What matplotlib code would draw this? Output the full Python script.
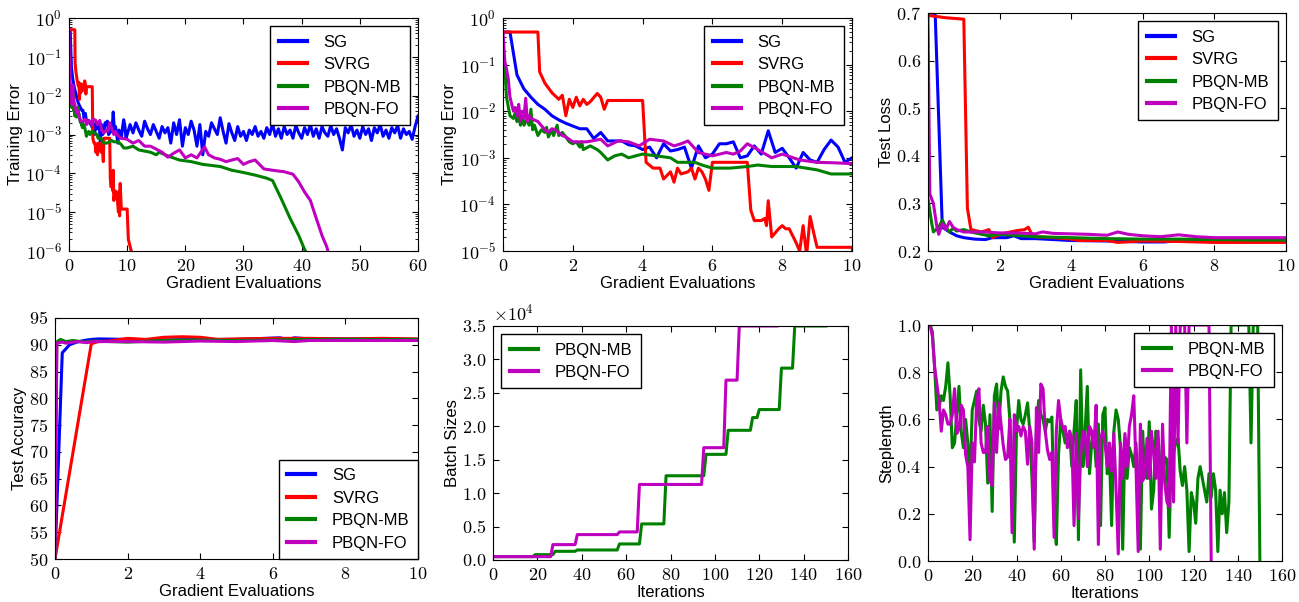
import numpy as np
import matplotlib
matplotlib.use('Agg')
import matplotlib.pyplot as plt
from matplotlib.ticker import FuncFormatter, NullFormatter

# ---------------- data ----------------
labels = ['SG', 'SVRG', 'PBQN-MB', 'PBQN-FO']
colors = ['#0000ff', '#ff0000', '#008000', '#bf00bf']

# training error vs gradient evaluations (shared by panels 1 and 2)
sg_x = np.concatenate([np.arange(0, 10.01, 0.2), np.arange(10.5, 60.01, 0.5)])
sg_err = [0.5, 0.5, 0.06, 0.03, 0.02, 0.014, 0.011, 0.008, 0.0065, 0.0055,
          0.0048, 0.0042, 0.0042, 0.0026, 0.0035, 0.0023, 0.0023, 0.0023, 0.0019, 0.0018,
          0.0015, 0.0017, 0.0010, 0.0020, 0.0014, 0.0015, 0.0017, 0.0006, 0.0018, 0.0010,
          0.0012, 0.0020, 0.0020, 0.0022, 0.0010, 0.0011, 0.0018, 0.0012, 0.0038, 0.0013,
          0.0016, 0.0010, 0.0006, 0.0013, 0.0009, 0.0008, 0.0015, 0.0024, 0.0017, 0.0008,
          0.0010,
          1.8e-3, 1.1e-3, 2.0e-3, 1.3e-3, 0.9e-3, 2.2e-3, 1.4e-3, 1.0e-3, 1.8e-3, 1.2e-3,
          0.8e-3, 1.6e-3, 1.1e-3, 1.5e-3, 0.6e-3, 2.0e-3, 1.0e-3, 2.4e-3, 0.5e-3, 1.5e-3,
          1.0e-3, 2.2e-3, 1.3e-3, 0.5e-3, 1.8e-3, 0.3e-3, 1.2e-3, 0.9e-3, 2.0e-3, 1.4e-3,
          1.0e-3, 2.7e-3, 1.2e-3, 0.6e-3, 1.9e-3, 1.1e-3, 0.7e-3, 1.6e-3, 0.9e-3, 1.2e-3,
          0.7e-3, 1.3e-3, 1.0e-3, 1.6e-3, 0.9e-3, 1.2e-3, 0.8e-3, 1.5e-3, 1.0e-3, 1.9e-3,
          0.9e-3, 1.4e-3, 0.8e-3, 1.6e-3, 1.0e-3, 1.3e-3, 0.8e-3, 1.7e-3, 1.1e-3, 0.8e-3,
          1.5e-3, 1.0e-3, 1.8e-3, 0.9e-3, 1.4e-3, 0.8e-3, 1.6e-3, 1.1e-3, 0.9e-3, 1.7e-3,
          1.0e-3, 1.4e-3, 0.8e-3, 0.4e-3, 1.5e-3, 1.1e-3, 1.8e-3, 0.9e-3, 1.3e-3, 0.8e-3,
          1.6e-3, 1.0e-3, 1.4e-3, 0.7e-3, 1.5e-3, 1.1e-3, 1.8e-3, 0.9e-3, 1.3e-3, 0.8e-3,
          1.5e-3, 1.1e-3, 1.7e-3, 0.8e-3, 1.4e-3, 1.0e-3, 1.2e-3, 0.75e-3, 1.6e-3, 3.0e-3]

svrg_x = [0, 1.0, 1.05, 1.2, 1.4, 1.6, 1.7, 1.8, 1.9, 2.0,
          2.1, 2.2, 2.3, 2.4, 2.5, 2.7, 2.8, 2.9, 3.0, 4.0,
          4.1, 4.3, 4.5, 4.6, 4.8, 4.9, 5.0, 5.1, 5.3, 5.4,
          5.5, 5.6, 5.7, 5.8, 5.9, 6.0, 7.0, 7.1, 7.2, 7.4,
          7.5, 7.55, 7.6, 7.7, 7.9, 8.0, 8.1, 8.2, 8.4, 8.5,
          8.6, 8.7, 8.8, 8.9, 9.0, 10.0, 10.2, 10.7, 11.2]
svrg_err = [0.5, 0.5, 0.07, 0.04, 0.025, 0.018, 0.022, 0.008, 0.018, 0.012,
            0.02, 0.013, 0.018, 0.014, 0.016, 0.024, 0.02, 0.011, 0.017, 0.017,
            8e-4, 6e-4, 6e-4, 3.5e-4, 5e-4, 3e-4, 6e-4, 4.5e-4, 5e-4, 6e-4,
            3.5e-4, 6e-4, 5e-4, 3.5e-4, 2e-4, 8e-4, 8e-4, 7.5e-5, 4.5e-5, 4.5e-5,
            5e-5, 3.5e-5, 1.2e-4, 2e-5, 3e-5, 3.5e-5, 3e-5, 3e-5, 1.5e-5, 1e-5,
            3.5e-5, 8e-6, 5.5e-5, 2.5e-5, 1.2e-5, 1.2e-5, 2e-6, 1e-6, 5e-7]

mb_x = [0, 0.05, 0.1, 0.2, 0.3, 0.35, 0.4, 0.45, 0.5, 0.55,
        0.6, 0.7, 0.75, 0.8, 0.85, 0.9, 1.0, 1.1, 1.2, 1.25,
        1.3, 1.4, 1.45, 1.55, 1.6, 1.7, 1.8, 1.9, 2.0, 2.1,
        2.2, 2.25, 2.3, 2.5, 2.7, 2.8, 3.0, 3.2, 3.4, 3.6,
        3.8, 4.0, 4.4, 4.8, 5.0, 5.5, 5.7, 6.0, 6.5, 7.0,
        7.3, 7.7, 8.4, 9.0, 9.4, 10, 11, 12, 14, 15,
        15.5, 17, 19, 21, 23, 26, 28, 30, 32, 34,
        35, 36.5, 38, 39.5, 40.5, 41]
mb_err = [0.1, 0.1, 0.02, 0.008, 0.007, 0.009, 0.006, 0.008, 0.005, 0.009,
          0.005, 0.007, 0.005, 0.011, 0.004, 0.005, 0.003, 0.004, 0.0035, 0.0045,
          0.0028, 0.004, 0.003, 0.005, 0.003, 0.0035, 0.0028, 0.0022, 0.002, 0.0022,
          0.0017, 0.0022, 0.0015, 0.0018, 0.0015, 0.0013, 0.0009, 0.0011, 0.0012, 0.001,
          0.0011, 0.0012, 0.0011, 0.001, 0.0008, 0.0008, 0.0007, 0.0006, 0.0006, 0.00065,
          0.0007, 0.00065, 0.00065, 0.00055, 0.00045, 0.00045, 5e-4, 4e-4, 3.5e-4, 3e-4,
          3.5e-4, 2.8e-4, 2.2e-4, 2e-4, 1.7e-4, 1.5e-4, 1.2e-4, 1.05e-4, 9e-5, 7.5e-5,
          6.5e-5, 2.2e-5, 7e-6, 2.5e-6, 1.1e-6, 8e-7]

fo_x = [0, 0.05, 0.1, 0.15, 0.2, 0.3, 0.35, 0.4, 0.45, 0.5,
        0.55, 0.6, 0.65, 0.7, 0.75, 0.8, 1.0, 1.2, 1.3, 1.4,
        1.5, 1.7, 1.8, 2.0, 2.4, 2.8, 3.0, 3.3, 3.6, 3.9,
        4.2, 4.6, 4.9, 5.1, 5.3, 5.6, 6.0, 6.4, 6.6, 6.8,
        7.0, 7.3, 7.7, 8.0, 8.5, 9.0, 9.5, 10, 11, 12,
        13, 14, 15, 16, 17, 18, 19, 20, 21, 22,
        23.3, 24, 25, 26, 27, 28, 29, 30, 31, 32,
        33.5, 35, 37, 38.5, 39.5, 40.5, 41.5, 42.5, 43.5, 44.3,
        44.7]
fo_err = [0.5, 0.12, 0.08, 0.05, 0.02, 0.01, 0.012, 0.008, 0.014, 0.006,
          0.01, 0.007, 0.019, 0.006, 0.008, 0.007, 0.006, 0.004, 0.0035, 0.0042,
          0.004, 0.003, 0.0028, 0.0022, 0.0022, 0.0025, 0.0018, 0.0023, 0.0022, 0.0018,
          0.0025, 0.0023, 0.0018, 0.002, 0.0023, 0.0013, 0.0011, 0.0013, 0.0012, 0.0014,
          0.002, 0.0015, 0.001, 0.0012, 0.0009, 0.0008, 0.00078, 0.00075, 6e-4, 7e-4,
          5e-4, 5e-4, 4.2e-4, 3.5e-4, 2.6e-4, 3.3e-4, 4e-4, 2.5e-4, 3e-4, 2.5e-4,
          4.8e-4, 3e-4, 2.5e-4, 2.3e-4, 2.0e-4, 2.2e-4, 2.4e-4, 1.7e-4, 2.0e-4, 2.2e-4,
          1.3e-4, 1.2e-4, 1.1e-4, 9.5e-5, 6e-5, 3.3e-5, 2e-5, 7e-6, 2.5e-6, 1.3e-6,
          8e-7]

# test loss
loss_sg_x = [0, 0.2, 0.4, 0.6, 0.8, 1.0, 1.3, 1.6, 1.8, 2.2, 2.4, 2.6, 3.0, 4.0, 5.0,
             6.0, 6.6, 7.0, 8.0, 9.0, 10]
loss_sg = [0.7, 0.7, 0.25, 0.24, 0.232, 0.228, 0.225, 0.224, 0.228, 0.228, 0.232, 0.226,
           0.226, 0.222, 0.221, 0.219, 0.219, 0.222, 0.22, 0.219, 0.222]
loss_svrg_x = [0, 0.5, 1.0, 1.1, 1.2, 1.5, 1.7, 1.8, 2.0, 2.3, 2.5, 2.7, 2.8, 2.9, 3.0,
               3.5, 4.0, 4.2, 5.0, 5.3, 6.0, 7.0, 8.0, 9.0, 10]
loss_svrg = [0.695, 0.69, 0.687, 0.29, 0.245, 0.24, 0.245, 0.228, 0.235, 0.24, 0.243,
             0.245, 0.25, 0.235, 0.23, 0.228, 0.225, 0.222, 0.222, 0.218, 0.221, 0.22,
             0.218, 0.218, 0.218]
loss_mb_x = [0, 0.1, 0.15, 0.3, 0.4, 0.5, 0.6, 0.7, 0.8, 1.0, 1.2, 1.5, 1.7, 2.0, 3.0,
             4.0, 5.0, 6.0, 7.0, 8.0, 9.0, 10]
loss_mb = [0.31, 0.26, 0.24, 0.25, 0.265, 0.25, 0.24, 0.248, 0.242, 0.245, 0.24, 0.235,
           0.232, 0.235, 0.23, 0.228, 0.226, 0.225, 0.225, 0.224, 0.223, 0.223]
loss_fo_x = [0, 0.05, 0.15, 0.25, 0.3, 0.4, 0.5, 0.6, 0.7, 0.8, 1.0, 1.5, 2.0, 2.5, 3.0,
             3.2, 3.5, 4.0, 4.5, 5.0, 5.3, 5.6, 6.0, 6.5, 7.0, 7.5, 8.0, 9.0, 10]
loss_fo = [0.69, 0.32, 0.3, 0.25, 0.235, 0.258, 0.245, 0.262, 0.25, 0.245, 0.24, 0.24,
           0.238, 0.238, 0.236, 0.24, 0.237, 0.236, 0.235, 0.233, 0.24, 0.235, 0.232,
           0.23, 0.234, 0.23, 0.228, 0.228, 0.228]

# test accuracy
acc_sg_x = [0, 0.2, 0.4, 0.6, 0.8, 1.0, 1.2, 2.0, 3.0, 4.0, 5.0, 6.2, 6.4, 6.6, 7.0, 8.0, 10]
acc_sg = [50, 88.5, 90, 90.5, 90.8, 91, 91.1, 91.0, 90.9, 91.0, 91.0, 91.3, 91.0, 91.3,
          91.1, 91.1, 91.0]
acc_svrg_x = [0, 1.0, 1.2, 1.5, 2.0, 2.5, 3.0, 3.5, 4.0, 4.5, 5.0, 6.0, 7.0, 8.0, 9.0, 10]
acc_svrg = [50, 90.2, 90.6, 90.7, 91.2, 91.0, 91.4, 91.5, 91.4, 91.0, 91.1, 91.2, 91.2,
            91.1, 91.2, 91.1]
acc_mb_x = [0, 0.05, 0.1, 0.15, 0.3, 0.5, 0.8, 1.0, 1.5, 2.0, 3.0, 4.0, 5.0, 6.0, 7.0, 8.0, 10]
acc_mb = [50, 90.5, 90.8, 91.0, 90.6, 90.8, 90.5, 90.7, 90.6, 90.5, 90.8, 90.9, 90.8,
          90.9, 91.0, 91.0, 91.0]
acc_fo_x = [0, 0.05, 0.2, 0.3, 0.6, 0.9, 1.0, 2.0, 3.0, 4.0, 5.0, 6.0, 6.6, 7.0, 8.0, 10]
acc_fo = [50, 90.3, 90.5, 90.3, 90.6, 90.4, 90.6, 90.6, 90.5, 90.7, 90.6, 90.8, 90.6,
          90.8, 90.8, 90.8]

# batch sizes (breakpoints of the staircase)
batch_mb_it = [0, 18, 19, 27, 28, 37, 38, 56, 57, 66, 67, 77, 78, 95, 96, 105, 106, 116,
               117, 119, 120, 129, 130, 135, 136, 150]
batch_mb = [500, 500, 800, 800, 1300, 1300, 1500, 1500, 2400, 2400, 5400, 5400, 12600,
            12600, 15800, 15800, 19400, 19400, 21300, 21300, 22500, 22500, 28700, 28700,
            35000, 35000]
batch_fo_it = [0, 26, 27, 37, 38, 56, 57, 65, 66, 94, 95, 104, 105, 110, 111, 128]
batch_fo = [500, 500, 2300, 2300, 3800, 3800, 4200, 4200, 11300, 11300, 16800, 16800,
            26900, 26900, 35000, 35000]

# steplength per iteration
step_mb = [1.0, 1.0, 0.97, 0.82, 0.64, 0.65, 0.70, 0.68, 0.74, 0.84,
           0.70, 0.48, 0.50, 0.62, 0.74, 0.55, 0.48, 0.60, 0.50, 0.35,
           0.64, 0.68, 0.72, 0.60, 0.55, 0.66, 0.58, 0.33, 0.62, 0.21,
           0.70, 0.75, 0.56, 0.72, 0.78, 0.74, 0.72, 0.60, 0.40, 0.08,
           0.55, 0.68, 0.60, 0.58, 0.62, 0.67, 0.55, 0.35, 0.08, 0.55,
           0.68, 0.62, 0.60, 0.55, 0.60, 0.59, 0.61, 0.20, 0.07, 0.45,
           0.60, 0.55, 0.50, 0.52, 0.55, 0.40, 0.55, 0.68, 0.09, 0.81,
           0.40, 0.55, 0.74, 0.37, 0.50, 0.55, 0.40, 0.58, 0.15, 0.62,
           0.65, 0.37, 0.45, 0.15, 0.55, 0.64, 0.60, 0.48, 0.05, 0.52,
           0.35, 0.48, 0.45, 0.40, 0.50, 0.30, 0.05, 0.55, 0.36, 0.35,
           0.59, 0.22, 0.30, 0.55, 0.52, 0.40, 0.36, 0.44, 0.43, 0.10,
           0.45, 0.46, 0.50, 0.52, 0.38, 0.32, 0.40, 0.30, 0.04, 0.29,
           0.25, 0.16, 0.35, 0.40, 0.35, 0.30, 0.25, 0.37, 0.27, 0.37,
           0.30, 0.04, 0.30, 0.20, 0.29, 0.12, 0.25, 1.0, 1.0, 1.0,
           1.0, 1.0, 1.0, 1.0, 1.0, 1.0, 0.50, 1.0, 1.0, 1.0,
           0.0]
step_fo = [1.0, 1.0, 0.95, 0.82, 0.75, 0.68, 0.55, 0.64, 0.62, 0.58,
           0.58, 0.62, 0.73, 0.54, 0.56, 0.66, 0.64, 0.45, 0.40, 0.09,
           0.50, 0.42, 0.68, 0.73, 0.50, 0.46, 0.46, 0.57, 0.34, 0.32,
           0.67, 0.46, 0.67, 0.58, 0.49, 0.43, 0.44, 0.60, 0.12, 0.62,
           0.55, 0.57, 0.53, 0.57, 0.55, 0.41, 0.57, 0.50, 0.05, 0.65,
           0.46, 0.75, 0.73, 0.55, 0.47, 0.43, 0.46, 0.10, 0.55, 0.68,
           0.60, 0.56, 0.57, 0.48, 0.55, 0.52, 0.15, 0.54, 0.18, 0.45,
           0.55, 0.54, 0.40, 0.57, 0.55, 0.48, 0.66, 0.07, 0.52, 0.55,
           0.50, 0.40, 0.50, 0.38, 0.54, 0.30, 0.03, 0.50, 0.35, 0.54,
           0.40, 0.57, 0.62, 0.70, 0.40, 0.04, 0.58, 0.34, 0.36, 0.52,
           0.35, 0.55, 0.45, 0.35, 0.55, 0.05, 0.58, 0.33, 0.25, 0.23,
           1.0, 0.25, 1.0, 0.50, 1.0, 1.0, 1.0, 0.50, 1.0, 1.0,
           1.0, 1.0, 1.0, 1.0, 1.0, 1.0, 1.0, 1.0, 0.0]

# ---------------- style ----------------
plt.rcParams['font.family'] = 'Liberation Sans'
plt.rcParams['font.size'] = 12
plt.rcParams['mathtext.fontset'] = 'cm'
plt.rcParams['mathtext.default'] = 'rm'
plt.rcParams['xtick.direction'] = 'in'
plt.rcParams['ytick.direction'] = 'in'
plt.rcParams['xtick.top'] = True
plt.rcParams['ytick.right'] = True
plt.rcParams['xtick.major.size'] = 4
plt.rcParams['ytick.major.size'] = 4
plt.rcParams['xtick.minor.size'] = 2
plt.rcParams['ytick.minor.size'] = 2
plt.rcParams['xtick.major.pad'] = 5
plt.rcParams['ytick.major.pad'] = 5
plt.rcParams['xtick.labelsize'] = 13
plt.rcParams['ytick.labelsize'] = 13
plt.rcParams['axes.labelpad'] = 1.5
LW = 2.2

W, H = 1299, 602
fig = plt.figure(figsize=(W / 100, H / 100), dpi=100)

int_fmt = FuncFormatter(lambda v, p: '$%d$' % round(v))
dec_fmt = FuncFormatter(lambda v, p: '$%.1f$' % v)
log_fmt = FuncFormatter(lambda v, p: '$10^{%d}$' % round(np.log10(v)))
e4_fmt = FuncFormatter(lambda v, p: '$%.1f$' % (v / 1e4))


def box(l, r, t, b):
    return [l / W, (H - b) / H, (r - l) / W, (b - t) / H]


def legend(ax, loc, pad=0.5):
    leg = ax.legend(loc=loc, fancybox=False, framealpha=1, edgecolor='black',
                    fontsize=12, handlelength=1.7, handletextpad=1.0,
                    labelspacing=0.45, borderpad=0.5, borderaxespad=pad)
    leg.get_frame().set_linewidth(1.0)
    for h in leg.get_lines():
        h.set_linewidth(3)


def log_axis(ax):
    ax.set_yscale('log')
    ax.yaxis.set_major_formatter(log_fmt)
    ax.yaxis.set_minor_formatter(NullFormatter())


# panel 1
ax1 = fig.add_axes(box(69, 418, 18, 251))
ax1.plot(sg_x, sg_err, color=colors[0], lw=LW, label=labels[0])
ax1.plot(svrg_x, svrg_err, color=colors[1], lw=LW, label=labels[1])
ax1.plot(mb_x, mb_err, color=colors[2], lw=LW, label=labels[2])
ax1.plot(fo_x, fo_err, color=colors[3], lw=LW, label=labels[3])
log_axis(ax1)
ax1.set_xlim(0, 60)
ax1.set_ylim(1e-6, 1)
ax1.xaxis.set_major_formatter(int_fmt)
ax1.set_xlabel('Gradient Evaluations', labelpad=1)
ax1.set_ylabel('Training Error')
legend(ax1, 'upper right')

# panel 2
ax2 = fig.add_axes(box(503, 852, 18, 251))
ax2.plot(sg_x, sg_err, color=colors[0], lw=LW, label=labels[0])
ax2.plot(svrg_x, svrg_err, color=colors[1], lw=LW, label=labels[1])
ax2.plot(mb_x, mb_err, color=colors[2], lw=LW, label=labels[2])
ax2.plot(fo_x, fo_err, color=colors[3], lw=LW, label=labels[3])
log_axis(ax2)
ax2.set_xlim(0, 10)
ax2.set_ylim(1e-5, 1)
ax2.xaxis.set_major_formatter(int_fmt)
ax2.set_xlabel('Gradient Evaluations', labelpad=1)
ax2.set_ylabel('Training Error')
legend(ax2, 'upper right')

# panel 3
ax3 = fig.add_axes(box(928, 1286, 13, 251))
ax3.plot(loss_sg_x, loss_sg, color=colors[0], lw=LW, label=labels[0])
ax3.plot(loss_svrg_x, loss_svrg, color=colors[1], lw=LW, label=labels[1])
ax3.plot(loss_mb_x, loss_mb, color=colors[2], lw=LW, label=labels[2])
ax3.plot(loss_fo_x, loss_fo, color=colors[3], lw=LW, label=labels[3])
ax3.set_xlim(0, 10)
ax3.set_ylim(0.2, 0.7)
ax3.xaxis.set_major_formatter(int_fmt)
ax3.yaxis.set_major_formatter(dec_fmt)
ax3.set_xlabel('Gradient Evaluations', labelpad=1)
ax3.set_ylabel('Test Loss')
legend(ax3, 'upper right')

# panel 4
ax4 = fig.add_axes(box(55, 418, 318, 559))
ax4.plot(acc_sg_x, acc_sg, color=colors[0], lw=LW, label=labels[0])
ax4.plot(acc_svrg_x, acc_svrg, color=colors[1], lw=LW, label=labels[1])
ax4.plot(acc_mb_x, acc_mb, color=colors[2], lw=LW, label=labels[2])
ax4.plot(acc_fo_x, acc_fo, color=colors[3], lw=LW, label=labels[3])
ax4.set_xlim(0, 10)
ax4.set_ylim(50, 95)
ax4.set_yticks(np.arange(50, 96, 5))
ax4.xaxis.set_major_formatter(int_fmt)
ax4.yaxis.set_major_formatter(int_fmt)
ax4.set_xlabel('Gradient Evaluations', labelpad=1)
ax4.set_ylabel('Test Accuracy')
legend(ax4, 'lower right', pad=0.0)

# panel 5
ax5 = fig.add_axes(box(493, 848, 326, 560))
ax5.plot(batch_mb_it, batch_mb, color=colors[2], lw=LW, label=labels[2])
ax5.plot(batch_fo_it, batch_fo, color=colors[3], lw=LW, label=labels[3])
ax5.set_xlim(0, 160)
ax5.set_ylim(0, 35000)
ax5.set_xticks(np.arange(0, 161, 20))
ax5.set_yticks(np.arange(0, 35001, 5000))
ax5.xaxis.set_major_formatter(int_fmt)
ax5.yaxis.set_major_formatter(e4_fmt)
ax5.text(0.0, 1.005, r'$\times10^{4}$', transform=ax5.transAxes, ha='left', va='bottom',
         fontsize=13)
ax5.set_xlabel('Iterations', labelpad=1)
ax5.set_ylabel('Batch Sizes')
legend(ax5, 'upper left')

# panel 6
ax6 = fig.add_axes(box(928, 1282, 325, 561))
ax6.plot(np.arange(len(step_mb)), step_mb, color=colors[2], lw=LW, label=labels[2])
ax6.plot(np.arange(len(step_fo)), step_fo, color=colors[3], lw=LW, label=labels[3])
ax6.set_xlim(0, 160)
ax6.set_ylim(0, 1)
ax6.set_xticks(np.arange(0, 161, 20))
ax6.xaxis.set_major_formatter(int_fmt)
ax6.yaxis.set_major_formatter(dec_fmt)
ax6.set_xlabel('Iterations', labelpad=1)
ax6.set_ylabel('Steplength')
legend(ax6, 'upper right')

fig.savefig('out.png', dpi=100)
